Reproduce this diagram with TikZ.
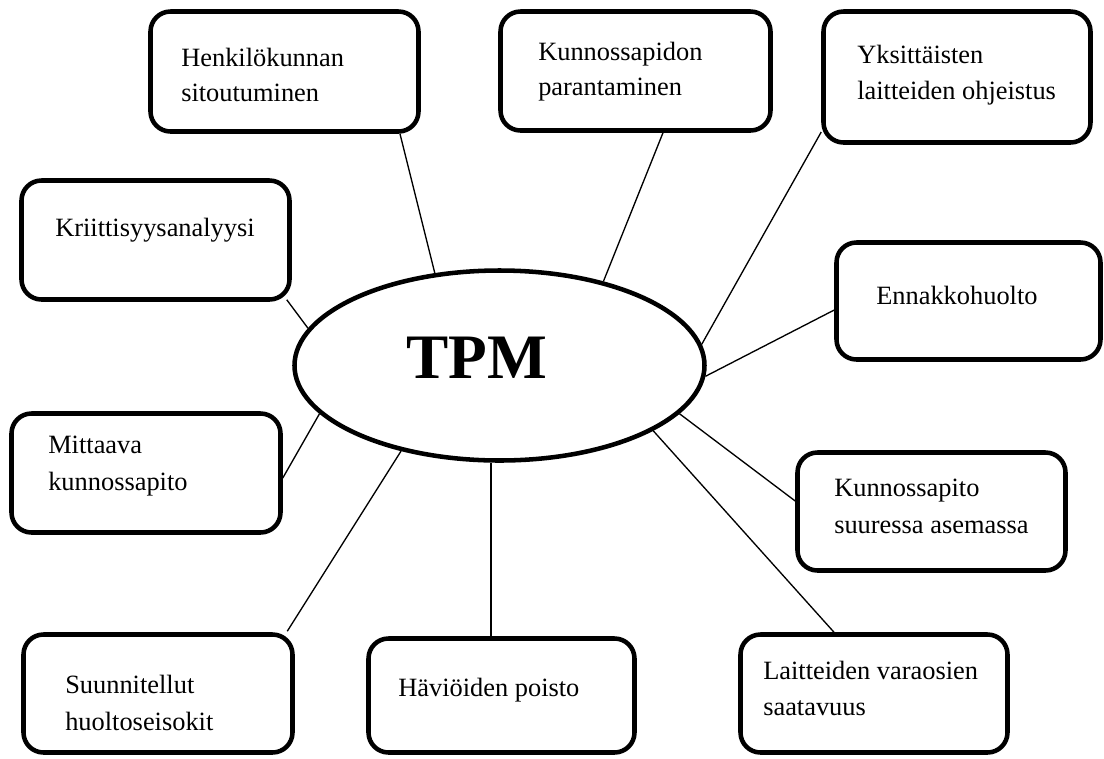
\documentclass[tikz,border=0pt]{standalone}
\usepackage{fontspec}
\setmainfont{Liberation Serif}
\usetikzlibrary{shapes.geometric,calc}
\begin{document}
\begin{tikzpicture}[x=0.75pt,y=-0.75pt,
  box/.style 2 args={draw,line width=3.4pt,rounded corners=15pt,inner sep=0pt,
    minimum width={#1*0.75pt},minimum height={#2*0.75pt}},
  lbl/.style={anchor=base west,inner sep=0pt,font=\fontsize{19.8}{24}\selectfont},
  conn/.style={line width=1pt},
  hub/.style={draw,ellipse,line width=3.4pt,inner sep=0pt,
    minimum width=307.5pt,minimum height=142.5pt}]
\useasboundingbox (0,0) rectangle (1104,758);

% central ellipse
\node[hub] (tpm) at (499.5,365.5) {};
\node[anchor=base west,inner sep=0pt,font=\fontsize{47.5}{50}\selectfont\bfseries] (tpmt) at (406,378) {TPM};

% boxes
\node[box={268}{120}] (h)  at (284.5,71.5) {};
\node[box={270}{119}] (k)  at (635.5,71) {};
\node[box={267}{131}] (y)  at (957,77) {};
\node[box={268}{119}] (kr) at (155.5,240) {};
\node[box={264}{117}] (e)  at (968.5,301) {};
\node[box={269}{119}] (m)  at (146,473) {};
\node[box={268}{118}] (ks) at (931.5,511.5) {};
\node[box={269}{118}] (s)  at (158,693.5) {};
\node[box={266}{114}] (hv) at (501.5,695.5) {};
\node[box={267}{118}] (l)  at (874,693.5) {};

% labels
\node[lbl] (h1) at (181,66) {Henkilökunnan};
\node[lbl] (h2) at (181,101) {sitoutuminen};
\node[lbl] (k1) at (538,60) {Kunnossapidon};
\node[lbl] (k2) at (538,95) {parantaminen};
\node[lbl] (y1) at (857,63) {Yksittäisten};
\node[lbl] (y2) at (857,99) {laitteiden ohjeistus};
\node[lbl] (kr1) at (55,236) {Kriittisyysanalyysi};
\node[lbl] (e1) at (876,304) {Ennakkohuolto};
\node[lbl] (m1) at (48,453) {Mittaava};
\node[lbl] (m2) at (48,490) {kunnossapito};
\node[lbl] (ks1) at (834,496) {Kunnossapito};
\node[lbl] (ks2) at (834,533) {suuressa asemassa};
\node[lbl] (s1) at (65,693) {Suunnitellut};
\node[lbl] (s2) at (65,730) {huoltoseisokit};
\node[lbl] (hv1) at (398,696) {Häviöiden poisto};
\node[lbl] (l1) at (763,679) {Laitteiden varaosien};
\node[lbl] (l2) at (763,715) {saatavuus};

% connectors
\draw[conn] ($(h.south)+(115.5,0)$) -- (tpm.125.4);
\draw[conn] ($(k.south)+(27.5,0)$) -- (tpm.39);
\draw[conn] ($(y.west)+(0,55)$) -- (tpm.6.3);
\draw[conn] ($(kr.south east)+(-5,-2)$) -- (tpm.169);
\draw[conn] ($(e.west)+(0,9)$) -- (tpm.-3.4);
\draw[conn] ($(m.east)+(0,5)$) -- (tpm.195.7);
\draw[conn] ($(ks.west)+(0,-10.5)$) -- (tpm.-15.3);
\draw[conn] ($(s.north east)+(-7.5,-1)$) -- (tpm.221.3);
\draw[conn] ($(hv.north)+(-10.5,0)$) -- ($(tpm.south)+(-8.5,0)$);
\draw[conn] ($(l.north)+(-40,0)$) -- (tpm.-23);
\end{tikzpicture}
\end{document}
